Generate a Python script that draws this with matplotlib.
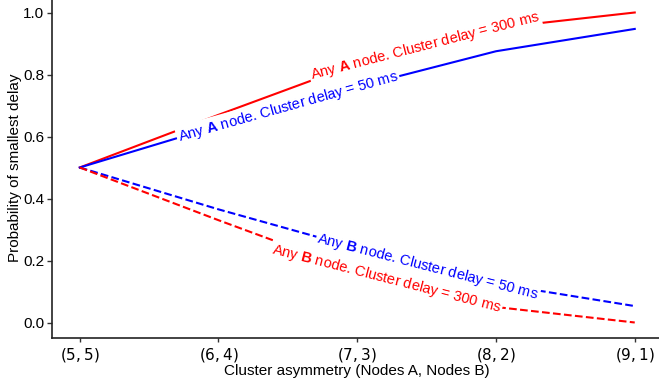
import matplotlib
matplotlib.use("Agg")
import matplotlib.pyplot as plt
import numpy as np

# Data
categories = ["$(5, 5)$", "$(6, 4)$", "$(7, 3)$", "$(8, 2)$", "$(9, 1)$"]
a_300 = [0.50, 0.67, 0.835, 0.95, 1.00]
a_50 = [0.50, 0.635, 0.76, 0.875, 0.947]
b_50 = [0.50, 0.365, 0.24, 0.125, 0.053]
b_300 = [0.50, 0.33, 0.165, 0.05, 0.00]

series = [
    (a_300, "red", "-", r"Any $\mathbf{A}$ node. Cluster delay = 300 ms", 2.49),
    (a_50, "blue", "-", r"Any $\mathbf{A}$ node. Cluster delay = 50 ms", 1.50),
    (b_50, "blue", "--", r"Any $\mathbf{B}$ node. Cluster delay = 50 ms", 2.51),
    (b_300, "red", "--", r"Any $\mathbf{B}$ node. Cluster delay = 300 ms", 2.21),
]

plt.rcParams["font.family"] = ["Liberation Sans", "DejaVu Sans"]
plt.rcParams["mathtext.fontset"] = "custom"
plt.rcParams["mathtext.rm"] = "DejaVu Sans"
plt.rcParams["mathtext.it"] = "DejaVu Sans:italic"
plt.rcParams["mathtext.bf"] = "Liberation Sans:bold"

fig = plt.figure(figsize=(6.59, 3.85), dpi=100)
ax = fig.add_axes([52 / 659, 47 / 385, 610.5 / 659, 341 / 385])

x = np.arange(len(categories))
for vals, color, ls, label, _ in series:
    ax.plot(x, vals, color=color, linestyle=ls, linewidth=1.5)

ax.set_xlim(-0.2, 4.2)
ax.set_ylim(-0.05, 1.05)
ax.set_xticks(x)
ax.set_xticklabels(categories, fontsize=11)
ax.set_yticks([0.0, 0.2, 0.4, 0.6, 0.8, 1.0])
ax.tick_params(axis="y", labelsize=11, length=3.5, width=1, color="#333333", pad=2)
ax.tick_params(axis="x", length=3, width=1, color="#333333", pad=3)
for side in ["top", "right"]:
    ax.spines[side].set_visible(False)
for side in ["left", "bottom"]:
    ax.spines[side].set_color("#222222")
    ax.spines[side].set_linewidth(1.2)

ax.set_xlabel("Cluster asymmetry (Nodes A, Nodes B)", fontsize=11, labelpad=0)
ax.set_ylabel("Probability of smallest delay", fontsize=11, labelpad=1)

# Inline labels along the lines (rotation follows the local slope)
fig.canvas.draw()
for vals, color, ls, label, xpos in series:
    i = int(np.floor(xpos))
    ypos = np.interp(xpos, x, vals)
    p0 = ax.transData.transform((i, vals[i]))
    p1 = ax.transData.transform((i + 1, vals[i + 1]))
    angle = np.degrees(np.arctan2(p1[1] - p0[1], p1[0] - p0[0]))
    ax.text(xpos, ypos, label, color=color, fontsize=10.5, rotation=angle,
            rotation_mode="anchor", ha="center", va="center",
            bbox=dict(facecolor="white", edgecolor="none", pad=1))

fig.savefig("out.png", dpi=100)
